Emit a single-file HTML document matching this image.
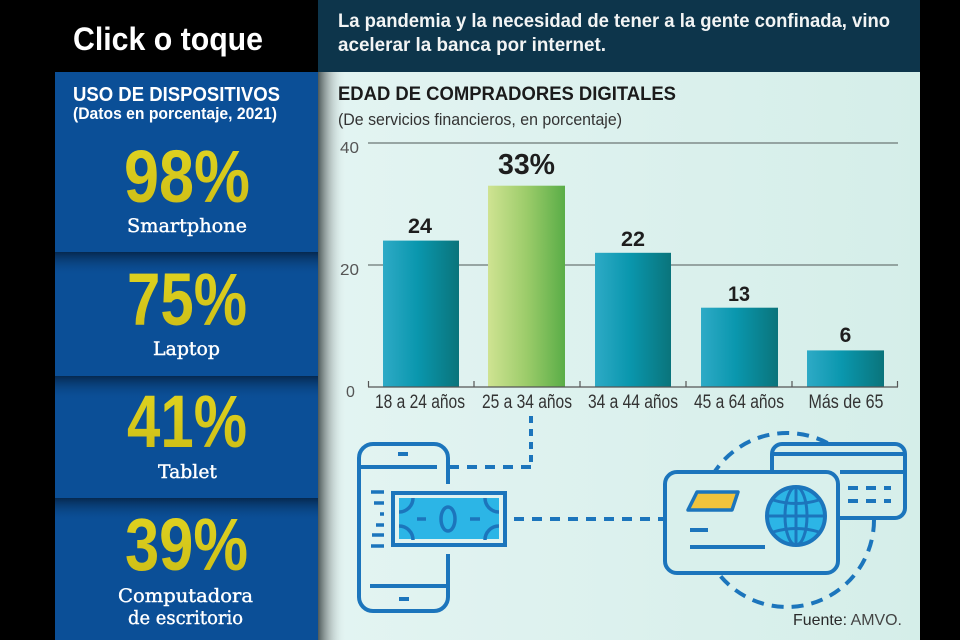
<!DOCTYPE html>
<html><head><meta charset="utf-8"><style>
html,body{margin:0;padding:0;background:#000;}
svg{display:block;}
</style></head><body>
<svg width="960" height="640" viewBox="0 0 960 640" xmlns="http://www.w3.org/2000/svg">
<defs>
<linearGradient id="mint" x1="0" y1="0" x2="1" y2="0"><stop offset="0" stop-color="#e3f4f2"/><stop offset="1" stop-color="#d5eee9"/></linearGradient>
<linearGradient id="shadow" x1="0" y1="0" x2="1" y2="0"><stop offset="0" stop-color="#4f5a5a" stop-opacity="1"/><stop offset="0.4" stop-color="#9aa5a4" stop-opacity="0.7"/><stop offset="1" stop-color="#e3f4f2" stop-opacity="0"/></linearGradient>
<linearGradient id="sep" x1="0" y1="0" x2="0" y2="1"><stop offset="0" stop-color="#06294f" stop-opacity="1"/><stop offset="1" stop-color="#0b4f97" stop-opacity="0"/></linearGradient>
<linearGradient id="teal" x1="0" y1="0" x2="1" y2="0"><stop offset="0" stop-color="#2eaac6"/><stop offset="0.45" stop-color="#0a97ae"/><stop offset="1" stop-color="#0a747b"/></linearGradient>
<linearGradient id="green" x1="0" y1="0" x2="1" y2="0"><stop offset="0" stop-color="#cfe392"/><stop offset="0.5" stop-color="#9ccc6a"/><stop offset="1" stop-color="#5aad47"/></linearGradient>
<linearGradient id="yel" x1="0" y1="0" x2="0" y2="1"><stop offset="0" stop-color="#e2d622"/><stop offset="1" stop-color="#cbbb15"/></linearGradient>
</defs>

<!-- background -->
<rect x="0" y="0" width="960" height="640" fill="#000"/>
<rect x="318" y="0" width="602" height="72" fill="#0d354b"/>
<rect x="55" y="72" width="263" height="568" fill="#0b4f97"/>
<rect x="55" y="252" width="263" height="24" fill="url(#sep)"/>
<rect x="55" y="376" width="263" height="24" fill="url(#sep)"/>
<rect x="55" y="498" width="263" height="24" fill="url(#sep)"/>
<rect x="318" y="72" width="602" height="568" fill="url(#mint)"/>
<rect x="318" y="72" width="28" height="568" fill="url(#shadow)"/>

<!-- header -->
<text x="73" y="50" font-family="Liberation Sans, sans-serif" font-weight="bold" font-size="32" fill="#fff" textLength="190" lengthAdjust="spacingAndGlyphs">Click o toque</text>
<text x="338" y="27" font-family="Liberation Sans, sans-serif" font-weight="bold" font-size="19" fill="#f2f4f4" textLength="552" lengthAdjust="spacingAndGlyphs">La pandemia y la necesidad de tener a la gente confinada, vino</text>
<text x="338" y="51" font-family="Liberation Sans, sans-serif" font-weight="bold" font-size="19" fill="#f2f4f4" textLength="268" lengthAdjust="spacingAndGlyphs">acelerar la banca por internet.</text>

<!-- left panel -->
<text x="73" y="101" font-family="Liberation Sans, sans-serif" font-weight="bold" font-size="20" fill="#fff" textLength="207" lengthAdjust="spacingAndGlyphs">USO DE DISPOSITIVOS</text>
<text x="73" y="119" font-family="Liberation Sans, sans-serif" font-weight="bold" font-size="17" fill="#fff" textLength="204" lengthAdjust="spacingAndGlyphs">(Datos en porcentaje, 2021)</text>

<g font-family="Liberation Sans, sans-serif" font-weight="bold" fill="url(#yel)" font-size="74">
<text x="124" y="202" textLength="126" lengthAdjust="spacingAndGlyphs">98%</text>
<text x="127" y="325" textLength="120" lengthAdjust="spacingAndGlyphs">75%</text>
<text x="127" y="447" textLength="120" lengthAdjust="spacingAndGlyphs">41%</text>
<text x="125" y="570" textLength="123" lengthAdjust="spacingAndGlyphs">39%</text>
</g>
<g font-family="DejaVu Serif, Liberation Serif, serif" font-size="19" fill="#fff" stroke="#fff" stroke-width="0.4">
<text x="127" y="232" textLength="120" lengthAdjust="spacingAndGlyphs">Smartphone</text>
<text x="153" y="355" textLength="67" lengthAdjust="spacingAndGlyphs">Laptop</text>
<text x="158" y="478" textLength="59" lengthAdjust="spacingAndGlyphs">Tablet</text>
<text x="118" y="602" textLength="135" lengthAdjust="spacingAndGlyphs">Computadora</text>
<text x="128" y="624" textLength="115" lengthAdjust="spacingAndGlyphs">de escritorio</text>
</g>

<!-- chart titles -->
<text x="338" y="100" font-family="Liberation Sans, sans-serif" font-weight="bold" font-size="19" fill="#1b1b1b" textLength="338" lengthAdjust="spacingAndGlyphs">EDAD DE COMPRADORES DIGITALES</text>
<text x="338" y="125" font-family="Liberation Sans, sans-serif" font-size="17" fill="#333" textLength="284" lengthAdjust="spacingAndGlyphs">(De servicios financieros, en porcentaje)</text>

<!-- grid -->
<line x1="368" y1="143" x2="898" y2="143" stroke="#7f8b89" stroke-width="1.5"/>
<line x1="368" y1="265" x2="898" y2="265" stroke="#7f8b89" stroke-width="1.5"/>
<g font-family="Liberation Sans, sans-serif" font-size="16" fill="#555">
<text x="340" y="153" textLength="19" lengthAdjust="spacingAndGlyphs">40</text>
<text x="340" y="275" textLength="19" lengthAdjust="spacingAndGlyphs">20</text>
<text x="346" y="397">0</text>
</g>

<!-- bars -->
<rect x="383" y="240.6" width="76" height="146.4" fill="url(#teal)"/>
<rect x="488" y="185.7" width="77" height="201.3" fill="url(#green)"/>
<rect x="595" y="252.8" width="76" height="134.2" fill="url(#teal)"/>
<rect x="701" y="307.7" width="77" height="79.3" fill="url(#teal)"/>
<rect x="807" y="350.4" width="77" height="36.6" fill="url(#teal)"/>

<!-- axis -->
<line x1="368" y1="387" x2="898" y2="387" stroke="#555" stroke-width="1.3"/>
<g stroke="#555" stroke-width="1.2">
<line x1="368.5" y1="381" x2="368.5" y2="387"/>
<line x1="474" y1="381" x2="474" y2="387"/>
<line x1="580" y1="381" x2="580" y2="387"/>
<line x1="686" y1="381" x2="686" y2="387"/>
<line x1="792" y1="381" x2="792" y2="387"/>
<line x1="897.5" y1="381" x2="897.5" y2="387"/>
</g>

<!-- values -->
<g font-family="Liberation Sans, sans-serif" font-weight="bold" fill="#1e1e1e" text-anchor="middle" font-size="21">
<text x="420" y="233" textLength="24" lengthAdjust="spacingAndGlyphs">24</text>
<text x="633" y="246" textLength="24" lengthAdjust="spacingAndGlyphs">22</text>
<text x="739" y="301" textLength="22" lengthAdjust="spacingAndGlyphs">13</text>
<text x="845.5" y="342">6</text>
<text x="526.5" y="174" font-size="29" textLength="57" lengthAdjust="spacingAndGlyphs">33%</text>
</g>

<!-- categories -->
<g font-family="Liberation Sans, sans-serif" font-size="19" fill="#333" text-anchor="middle">
<text x="420" y="408" textLength="90" lengthAdjust="spacingAndGlyphs">18 a 24 años</text>
<text x="527" y="408" textLength="90" lengthAdjust="spacingAndGlyphs">25 a 34 años</text>
<text x="633" y="408" textLength="90" lengthAdjust="spacingAndGlyphs">34 a 44 años</text>
<text x="739" y="408" textLength="90" lengthAdjust="spacingAndGlyphs">45 a 64 años</text>
<text x="846" y="408" textLength="75" lengthAdjust="spacingAndGlyphs">Más de 65</text>
</g>

<!-- illustration -->
<g fill="none" stroke="#1c75bc" stroke-width="4">
<line x1="531" y1="416" x2="531" y2="467" stroke-dasharray="7 6"/>
<line x1="531" y1="467" x2="450" y2="467" stroke-dasharray="10 8"/>
<rect x="359" y="444" width="89" height="167" rx="14"/>
<line x1="359" y1="467" x2="437" y2="467"/>
<line x1="398" y1="454" x2="408" y2="454"/>
<line x1="370" y1="586" x2="448" y2="586"/>
<line x1="399" y1="599" x2="409" y2="599"/>
</g>
<rect x="440" y="484" width="14" height="70" fill="#e0f2f0"/>
<g stroke="#1c75bc" stroke-width="3.5">
<line x1="371" y1="492" x2="384" y2="492"/>
<line x1="374" y1="503" x2="384" y2="503"/>
<line x1="380" y1="514" x2="384" y2="514"/>
<line x1="376" y1="525" x2="384" y2="525"/>
<line x1="372" y1="535" x2="384" y2="535"/>
<line x1="371" y1="546" x2="384" y2="546"/>
</g>
<rect x="393" y="493" width="112" height="52" fill="#e0f2f0" stroke="#1c75bc" stroke-width="4"/>
<rect x="399" y="498" width="100" height="41" fill="#2cb5e6"/>
<g fill="none" stroke="#1c75bc" stroke-width="3.5">
<path d="M399 512 A14 14 0 0 0 413 498"/>
<path d="M485 498 A14 14 0 0 0 499 512"/>
<path d="M399 526 A14 14 0 0 1 413 540"/>
<path d="M485 540 A14 14 0 0 1 499 526"/>
<ellipse cx="448" cy="519" rx="7" ry="12" fill="#2cb5e6"/>
<line x1="417" y1="519" x2="426" y2="519"/>
<line x1="470" y1="519" x2="480" y2="519"/>
<line x1="514" y1="519" x2="665" y2="519" stroke-width="4" stroke-dasharray="10 8"/>
</g>
<circle cx="787" cy="520" r="87" fill="none" stroke="#1c75bc" stroke-width="4" stroke-dasharray="12 8"/>
<rect x="772" y="444" width="133" height="74" rx="10" fill="#d7efeb" stroke="#1c75bc" stroke-width="4"/>
<g stroke="#1c75bc" stroke-width="4">
<line x1="773" y1="454" x2="905" y2="454"/>
<line x1="840" y1="472" x2="905" y2="472"/>
<line x1="848" y1="488" x2="858" y2="488"/>
<line x1="866" y1="488" x2="876" y2="488"/>
<line x1="884" y1="488" x2="891" y2="488"/>
<line x1="848" y1="501" x2="858" y2="501"/>
<line x1="866" y1="501" x2="876" y2="501"/>
<line x1="884" y1="501" x2="891" y2="501"/>
</g>
<rect x="665" y="472" width="173" height="101" rx="12" fill="#d9f0ec" stroke="#1c75bc" stroke-width="4"/>
<polygon points="697,492 738,492 732,510 688,510" fill="#f1c33c" stroke="#1c75bc" stroke-width="3.5" stroke-linejoin="round"/>
<g stroke="#1c75bc" stroke-width="4">
<line x1="690" y1="530" x2="708" y2="530"/>
<line x1="690" y1="547" x2="765" y2="547"/>
</g>
<circle cx="796" cy="516" r="29" fill="#2cb5e6" stroke="#1c75bc" stroke-width="4"/>
<g fill="none" stroke="#1c75bc" stroke-width="3">
<ellipse cx="796" cy="516" rx="11" ry="29"/>
<line x1="796" y1="487" x2="796" y2="545"/>
<line x1="767" y1="516" x2="825" y2="516"/>
<path d="M773 500 Q796 507 819 500"/>
<path d="M773 532 Q796 525 819 532"/>
</g>

<text x="793" y="625" font-family="Liberation Sans, sans-serif" font-size="16" fill="#2a2a2a" textLength="109" lengthAdjust="spacingAndGlyphs">Fuente: <tspan fill="#444">AMVO.</tspan></text>
</svg>
</body></html>
